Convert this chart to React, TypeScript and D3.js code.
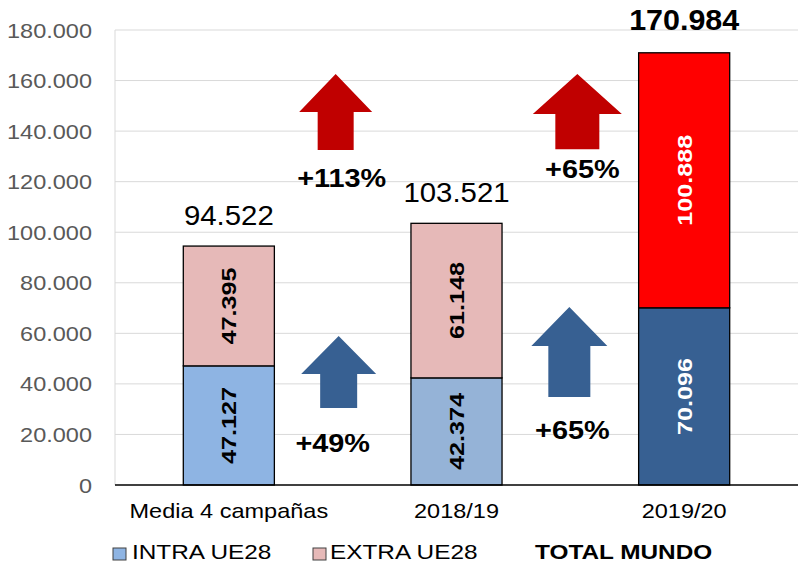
import React from "react";
import * as d3 from "d3";

const categories = ["Media 4 campañas", "2018/19", "2019/20"];
const intra = [47127, 42374, 70096];
const extra = [47395, 61148, 100888];
const totals = [94522, 103521, 170984];
const yTicks = [0, 20000, 40000, 60000, 80000, 100000, 120000, 140000, 160000, 180000];
const legendItems = ["INTRA UE28", "EXTRA UE28", "TOTAL MUNDO"];

// annotation arrows: position between categories, in data units
const arrowPairs = [0, 0, 1, 1];
const arrowTops = [162600, 58900, 162600, 70400];
const arrowBottoms = [132500, 30500, 132800, 34800];
const arrowLabels = ["+113%", "+49%", "+65%", "+65%"];

const intraColors = ["#8EB4E3", "#95B3D7", "#376092"];
const extraColors = ["#E6B9B8", "#E6B9B8", "#FF0000"];
const labelColors = ["#000", "#000", "#fff"];
const arrowColors = ["#C00000", "#376092", "#C00000", "#376092"];
const arrowDx = [-7, -4, 7, -1];
const arrowHeadW = [73, 75, 89, 76];
const arrowShaftW = [36, 37, 44, 42];
const arrowHeadH = [38, 38, 40, 39];
const labelDx = [6, -6, 5, 3];
const labelDy = [37, 44, 29, 42];

const W = 798;
const H = 563;
const M = { left: 115, right: 0, top: 30, bottom: 78 };

const locale = d3.formatLocale({ decimal: ",", thousands: ".", grouping: [3], currency: ["", "€"] });
const fmt = locale.format(",d");
const FONT = "'Liberation Sans', Arial, sans-serif";

function T(props: {
  x: number;
  y: number;
  sx?: number;
  anchor?: string;
  size: number;
  bold?: boolean;
  fill?: string;
  rotate?: number;
  children: React.ReactNode;
}) {
  const { x, y, sx = 1, anchor = "start", size, bold, fill = "#000", rotate = 0, children } = props;
  return (
    <text
      transform={`translate(${x},${y}) rotate(${rotate}) scale(${sx},1)`}
      textAnchor={anchor}
      fontSize={size}
      fontWeight={bold ? "bold" : "normal"}
      fill={fill}
    >
      {children}
    </text>
  );
}

export default function App() {
  const x = d3.scaleBand().domain(categories).range([M.left, W - M.right]).paddingInner(0.6).paddingOuter(0.3);
  const y = d3.scaleLinear().domain([0, 180000]).range([H - M.bottom, M.top]);
  const bw = x.bandwidth();
  const center = (i: number) => (x(categories[i]) as number) + bw / 2;

  return (
    <div style={{ position: "fixed", left: 0, top: 0 }}>
      <svg width={W} height={H} style={{ display: "block", background: "#fff", fontFamily: FONT }}>
        {yTicks.map((t) => (
          <g key={t}>
            {t > 0 && <line x1={M.left} x2={W} y1={y(t)} y2={y(t)} stroke="#D9D9D9" strokeWidth={1} />}
            <T x={92} y={y(t) + 7.5} anchor="end" size={21} sx={1.12} fill="#595959">
              {fmt(t)}
            </T>
          </g>
        ))}
        <line x1={M.left} x2={M.left} y1={M.top} y2={y(0)} stroke="#D9D9D9" />

        {categories.map((c, i) => {
          const x0 = x(c) as number;
          return (
            <g key={c}>
              <rect x={x0} y={y(intra[i])} width={bw} height={y(0) - y(intra[i])} fill={intraColors[i]} stroke="#000" strokeWidth={1.3} />
              <rect x={x0} y={y(intra[i] + extra[i])} width={bw} height={y(intra[i]) - y(intra[i] + extra[i])} fill={extraColors[i]} stroke="#000" strokeWidth={1.3} />
              <T x={x0 + bw / 2 + 7.5} y={(y(0) + y(intra[i])) / 2} rotate={-90} anchor="middle" size={21} sx={1.2} bold fill={labelColors[i]}>
                {fmt(intra[i])}
              </T>
              <T
                x={x0 + bw / 2 + 7.5}
                y={(y(intra[i]) + y(intra[i] + extra[i])) / 2}
                rotate={-90}
                anchor="middle"
                size={21}
                sx={1.2}
                bold
                fill={labelColors[i]}
              >
                {fmt(extra[i])}
              </T>
              <T
                x={x0 + bw / 2}
                y={y(totals[i]) - (i === 2 ? 23 : 21)}
                anchor="middle"
                size={i === 2 ? 29 : 28}
                sx={1.05}
                bold={i === 2}
              >
                {fmt(totals[i])}
              </T>
              <T x={x0 + bw / 2} y={518} anchor="middle" size={21} sx={1.12}>
                {c}
              </T>
            </g>
          );
        })}
        <line x1={M.left} x2={W} y1={y(0)} y2={y(0)} stroke="#000" strokeWidth={1.3} />

        {arrowPairs.map((p, i) => {
          const cx = (center(p) + center(p + 1)) / 2 + arrowDx[i];
          const top = y(arrowTops[i]);
          const bot = y(arrowBottoms[i]);
          const hb = top + arrowHeadH[i];
          const hw = arrowHeadW[i] / 2;
          const sw = arrowShaftW[i] / 2;
          const path = d3.path();
          path.moveTo(cx, top);
          path.lineTo(cx + hw, hb);
          path.lineTo(cx + sw, hb);
          path.lineTo(cx + sw, bot);
          path.lineTo(cx - sw, bot);
          path.lineTo(cx - sw, hb);
          path.lineTo(cx - hw, hb);
          path.closePath();
          return (
            <g key={i}>
              <path d={path.toString()} fill={arrowColors[i]} />
              <T x={cx + labelDx[i]} y={bot + labelDy[i]} anchor="middle" size={26} sx={1.11} bold>
                {arrowLabels[i]}
              </T>
            </g>
          );
        })}

        <g>
          <rect x={113} y={548} width={13} height={12} fill={intraColors[0]} stroke="#404040" strokeWidth={1} />
          <T x={132} y={559} size={21} sx={1.16}>{legendItems[0]}</T>
          <rect x={313} y={548} width={13} height={12} fill={extraColors[0]} stroke="#404040" strokeWidth={1} />
          <T x={330} y={559} size={21} sx={1.16}>{legendItems[1]}</T>
          <T x={535} y={559} size={21} sx={1.16} bold>{legendItems[2]}</T>
        </g>
      </svg>
    </div>
  );
}
